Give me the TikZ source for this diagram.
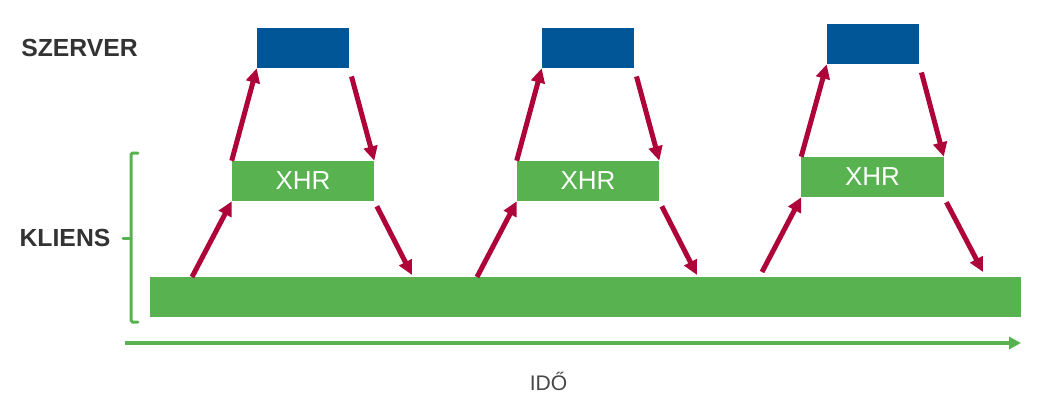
\documentclass[tikz,border=0pt]{standalone}
\usepackage{fontspec}
\setmainfont{Liberation Sans}
\usepackage{tikz}
\usetikzlibrary{arrows.meta}
\definecolor{xgreen}{HTML}{57B24F}
\definecolor{xblue}{HTML}{005697}
\definecolor{xred}{HTML}{AE0439}
\definecolor{xtext}{HTML}{333333}

\begin{document}
\begin{tikzpicture}[
  x=0.025cm, y=-0.025cm,
  srv/.style={rectangle, fill=xblue, minimum width=2.3cm, minimum height=1cm,
              inner sep=0pt},
  xhr/.style={rectangle, fill=xgreen, minimum width=3.55cm, minimum height=1cm,
              inner sep=0pt, text=white, font=\fontsize{18.5}{18.5}\selectfont},
  bar/.style={rectangle, fill=xgreen, minimum width=21.775cm, minimum height=1cm,
              inner sep=0pt},
  lbl/.style={font=\fontsize{17.6}{17.6}\selectfont\bfseries, text=xtext},
  req/.style={draw=xred, line width=1.25mm, -{Triangle[length=3.6mm, width=3.4mm]}},
  axis/.style={draw=xgreen, line width=1mm, -{Triangle[length=3mm, width=3mm]}}]
  \useasboundingbox (0,0) rectangle (1052,404);
  % row labels
  \node[lbl] (lsrv) at (79.5,47.5) {SZERVER};
  \node[lbl] (lcli) at (65,238)    {KLIENS};
  \draw[xgreen, line width=0.75mm, line cap=round, rounded corners=1pt]
       (138,153) -- (131,153) -- (131,322) -- (138,322);
  \draw[xgreen, line width=0.75mm, line cap=round] (131,238) -- (123,238);
  % client main thread
  \node[bar] (bar) at (585.5,297) {};
  % requests
  \node[srv] (s1) at (303,48)    {};
  \node[xhr] (x1) at (303,181)   {XHR};
  \node[srv] (s2) at (588,48)    {};
  \node[xhr] (x2) at (588,181)   {XHR};
  \node[srv] (s3) at (873,44)    {};
  \node[xhr] (x3) at (872.5,177) {XHR};
  \coordinate (u1) at (192,277);
  \coordinate (d1) at (412,275);
  \coordinate (u2) at (477,277);
  \coordinate (d2) at (697,275);
  \coordinate (u3) at (762,272);
  \coordinate (d3) at (983,272);
  \draw[req] (u1) -- (x1.south west);
  \draw[req] (x1.north west) -- (s1.south west);
  \draw[req, shorten <=6pt] (s1.south east) -- (x1.north east);
  \draw[req, shorten <=4pt] (x1.south east) -- (d1);
  \draw[req] (u2) -- (x2.south west);
  \draw[req] (x2.north west) -- (s2.south west);
  \draw[req, shorten <=6pt] (s2.south east) -- (x2.north east);
  \draw[req, shorten <=4pt] (x2.south east) -- (d2);
  \draw[req] (u3) -- (x3.south west);
  \draw[req] (x3.north west) -- (s3.south west);
  \draw[req, shorten <=6pt] (s3.south east) -- (x3.north east);
  \draw[req, shorten <=4pt] (x3.south east) -- (d3);
  % time axis
  \coordinate (t0) at (125,343);
  \coordinate (t1) at (1021,343);
  \draw[axis] (t0) -- (t1);
  \node[font=\fontsize{15}{15}\selectfont, text=xtext!90] (ido) at (548.5,381) {IDŐ};
\end{tikzpicture}
\end{document}
